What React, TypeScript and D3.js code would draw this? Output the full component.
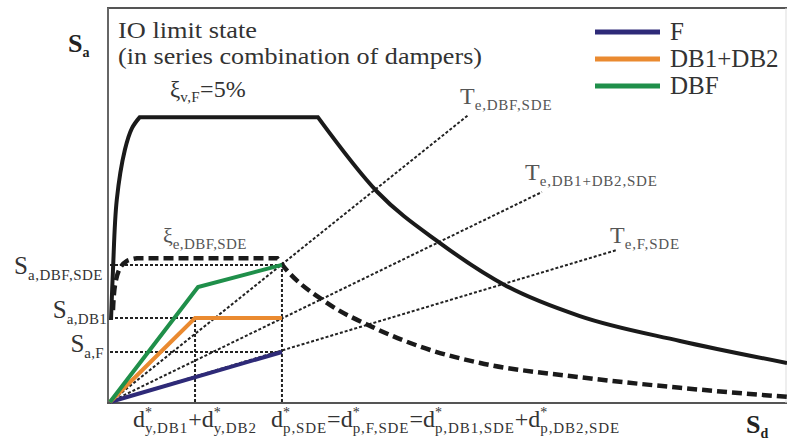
import React from 'react';
import * as d3 from 'd3';

const W = 787;
const H = 443;

// Spectral displacement (x) / acceleration (y), normalized units
const elasticRise: [number, number][] = [[0.015, 0.208], [0.044, 0.335], [0.10, 0.513], [0.22, 0.640], [0.325, 0.695], [0.44, 0.723]];
const elasticPlateau: [number, number][] = [[0.44, 0.723], [3.07, 0.723]];
const elasticFall: [number, number][] = [[3.07, 0.723], [3.95, 0.533], [4.87, 0.404], [5.86, 0.294], [6.94, 0.218], [8.42, 0.155], [10, 0.099]];

const dampedRise: [number, number][] = [[0.044, 0.233], [0.074, 0.297], [0.148, 0.340], [0.25, 0.358], [0.40, 0.365]];
const dampedPlateau: [number, number][] = [[0.40, 0.365], [2.47, 0.365]];
const dampedFall: [number, number][] = [[2.47, 0.365], [2.56, 0.345], [3.21, 0.251], [3.88, 0.190], [4.73, 0.132], [5.47, 0.099], [6.94, 0.063], [8.42, 0.036], [10, 0.013]];

const curveF: [number, number][] = [[0, 0], [2.54, 0.127]];
const curveDB: [number, number][] = [[0, 0], [1.256, 0.213], [2.54, 0.213]];
const curveDBF: [number, number][] = [[0, 0], [1.30, 0.292], [2.54, 0.348]];

const seriesNames = ['F', 'DB1+DB2', 'DBF'];
const seriesColors = ['#2e2a78', '#ea8a30', '#1f8f4a'];

const periodEnds: [number, number][] = [[5.29, 0.728], [6.38, 0.533], [7.49, 0.386]];

const guideH: [number, number, number][] = [[0.348, 0, 2.54], [0.213, 0, 1.256], [0.127, 0, 2.54]];
const guideV: [number, number, number][] = [[1.256, 0, 0.213], [2.54, 0, 0.348]];

const FONT = '"Liberation Serif", "Times New Roman", serif';

type Piece = { t: string; size: number; off: number; dx?: number; ls?: number };

function rich(pieces: Piece[], props: any, key: string) {
  let prev = 0;
  return (
    <text key={key} fontFamily={FONT} {...props}>
      {pieces.map((p, i) => {
        const dy = p.off - prev;
        prev = p.off;
        return (
          <tspan key={i} fontSize={p.size} dy={dy} dx={p.dx || 0} letterSpacing={p.ls || 0} fill={props.fill}>{p.t}</tspan>
        );
      })}
    </text>
  );
}

const main = (t: string, size: number): Piece => ({ t, size, off: 0 });
const subp = (t: string, size: number, off = 6, ls = 0.4): Piece => ({ t, size, off, ls });
const dstar = (s: string): Piece[] => [
  { t: 'd', size: 24, off: 0 },
  { t: '*', size: 14, off: -10 },
  { t: s, size: 15, off: 6, dx: -7, ls: 0.9 },
];

export default function App() {
  const x = d3.scaleLinear().domain([0, 10]).range([110, 787]);
  const y = d3.scaleLinear().domain([0, 1]).range([402, 8]);
  const lin = d3.line<[number, number]>().x(d => x(d[0])).y(d => y(d[1]));
  const cur = d3.line<[number, number]>().x(d => x(d[0])).y(d => y(d[1])).curve(d3.curveMonotoneX);
  const joined = (a: [number, number][], b: [number, number][], c: [number, number][]) =>
    (d3.line<[number, number]>().x(d => x(d[0])).y(d => y(d[1])).curve(d3.curveCatmullRom.alpha(0.5))(a) || '') +
    (lin(b) || '').replace(/^M/, 'L') + (cur(c) || '').replace(/^M/, 'L');

  const dotted = { stroke: '#222', strokeWidth: 2, strokeDasharray: '3,2', fill: 'none' };

  return (
    <svg width={W} height={H} style={{ position: 'absolute', left: 0, top: 0, background: '#fff' }}>
      {/* frame */}
      <line x1={107} y1={8} x2={787} y2={8} stroke="#555" strokeWidth={2} />
      <line x1={108} y1={8} x2={108} y2={403} stroke="#666" strokeWidth={2} />
      <line x1={107} y1={403} x2={787} y2={403} stroke="#555" strokeWidth={2} />
      <line x1={786} y1={8} x2={786} y2={403} stroke="#ddd" strokeWidth={1} />

      {/* guides */}
      {guideH.map((g, i) => (
        <line key={'h' + i} x1={x(g[1])} x2={x(g[2])} y1={y(g[0])} y2={y(g[0])} {...dotted} />
      ))}
      {guideV.map((g, i) => (
        <line key={'v' + i} x1={x(g[0])} x2={x(g[0])} y1={y(g[1])} y2={y(g[2])} {...dotted} />
      ))}
      {periodEnds.map((p, i) => (
        <line key={'p' + i} x1={x(0)} y1={y(0)} x2={x(p[0])} y2={y(p[1])} {...dotted} />
      ))}

      {/* spectra */}
      <path d={joined(elasticRise, elasticPlateau, elasticFall)} fill="none" stroke="#1a1a1a" strokeWidth={4} strokeLinejoin="miter" />
      <path d={joined(dampedRise, dampedPlateau, dampedFall)} fill="none" stroke="#1a1a1a" strokeWidth={4.5} strokeDasharray="10,5" />

      {/* capacity curves */}
      {[curveF, curveDB, curveDBF].map((c, i) => (
        <path key={'c' + i} d={lin(c) || ''} fill="none" stroke={seriesColors[i]} strokeWidth={4} />
      ))}

      {/* legend */}
      {seriesNames.map((n, i) => (
        <g key={'l' + i}>
          <line x1={595} x2={660} y1={32 + i * 27} y2={32 + i * 27} stroke={seriesColors[i]} strokeWidth={5} />
          <text x={670} y={40 + i * 27} fontFamily={FONT} fontSize={25} fill="#333">{n}</text>
        </g>
      ))}

      {/* titles */}
      <text x={118} y={38} fontFamily={FONT} fontSize={23} fill="#333" textLength={139} lengthAdjust="spacingAndGlyphs">IO limit state</text>
      <text x={118} y={64} fontFamily={FONT} fontSize={23} fill="#333" textLength={364} lengthAdjust="spacingAndGlyphs">(in series combination of dampers)</text>
      {rich([main('S', 26), subp('a', 14, 5, 0)], { x: 68, y: 52, fontWeight: 'bold', fill: '#222' }, 'sa')}
      {rich([main('S', 26), subp('d', 14, 5, 0)], { x: 746, y: 433, fontWeight: 'bold', fill: '#222' }, 'sd')}

      {rich([main('ξ', 23), subp('v,F', 15, 5), { t: '=5%', size: 24, off: 0 }], { x: 170, y: 97, fill: '#333' }, 'xv')}
      {rich([main('ξ', 22), subp('e,DBF,SDE', 15, 6)], { x: 163, y: 243, fill: '#555' }, 'xe')}

      {rich([main('T', 24), subp('e,DBF,SDE', 15, 6, 0.8)], { x: 460, y: 104, fill: '#555' }, 't1')}
      {rich([main('T', 24), subp('e,DB1+DB2,SDE', 15, 6, 0.8)], { x: 525, y: 180, fill: '#555' }, 't2')}
      {rich([main('T', 24), subp('e,F,SDE', 15, 6, 0.8)], { x: 610, y: 243, fill: '#555' }, 't3')}

      {rich([main('S', 25), subp('a,DBF,SDE', 15, 6, 0.5)], { x: 103, y: 274, textAnchor: 'end', fill: '#333' }, 'l1')}
      {rich([main('S', 25), subp('a,DB1', 15, 6, 0.3)], { x: 107, y: 318, textAnchor: 'end', fill: '#333' }, 'l2')}
      {rich([main('S', 25), subp('a,F', 15, 6, 0.3)], { x: 104, y: 352, textAnchor: 'end', fill: '#333' }, 'l3')}

      {rich([...dstar('y,DB1'), main('+', 24), ...dstar('y,DB2')], { x: 133, y: 427, fill: '#333' }, 'b1')}
      {rich([
        ...dstar('p,SDE'), main('=', 24),
        ...dstar('p,F,SDE'), main('=', 24),
        ...dstar('p,DB1,SDE'), main('+', 24),
        ...dstar('p,DB2,SDE'),
      ], { x: 271, y: 427, fill: '#333' }, 'b2')}
    </svg>
  );
}
